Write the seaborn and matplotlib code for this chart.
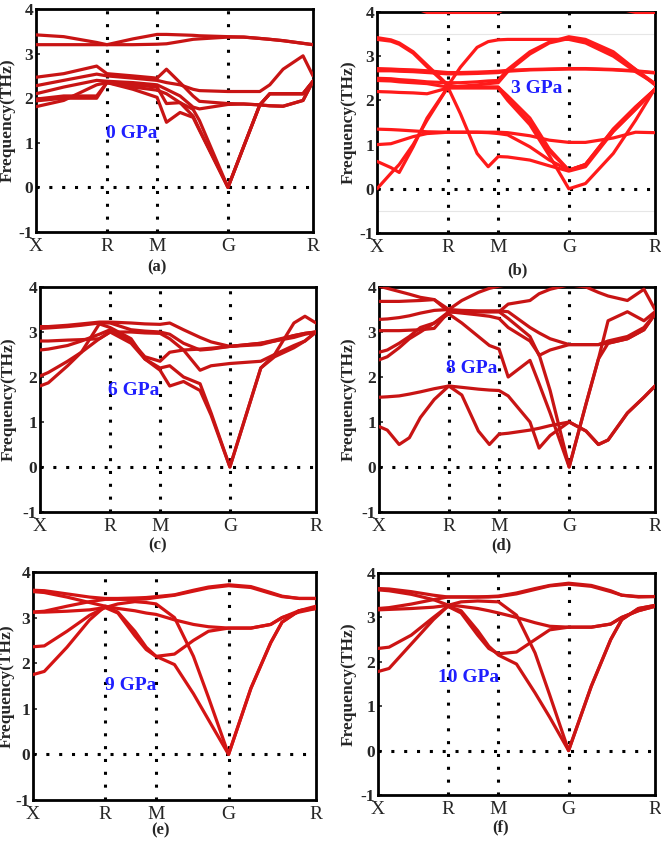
import numpy as np
import pandas as pd
import matplotlib
matplotlib.use("Agg")
import matplotlib.pyplot as plt
import seaborn as sns

sns.set_theme(style="white")
plt.rcParams["font.family"] = ["Liberation Serif", "DejaVu Serif"]

# ---------------- data ----------------
tick_labels = ["X", "R", "M", "G", "R"]

# (a) 0 GPa
a_ticks = [0.0, 0.256, 0.437, 0.693, 1.0]
a_grid = [0, 0.1, 0.219, 0.256, 0.35, 0.437, 0.471, 0.52, 0.567, 0.59, 0.693, 0.75, 0.808, 0.844, 0.892, 0.964, 1.0]
a_bands = [
    [3.42, 3.38, 3.25, 3.2, 3.33, 3.43, 3.43, 3.42, 3.41, 3.4, 3.38, 3.37, 3.34, 3.32, 3.29, 3.23, 3.2],
    [3.2, 3.2, 3.2, 3.2, 3.2, 3.21, 3.22, 3.27, 3.32, 3.33, 3.37, 3.37, 3.34, 3.32, 3.29, 3.23, 3.2],
    [2.47, 2.55, 2.72, 2.55, 2.5, 2.45, 2.65, 2.35, 2.05, 1.93, 1.88, 1.87, 1.85, 1.83, 1.82, 1.95, 2.38],
    [2.28, 2.4, 2.54, 2.5, 2.45, 2.4, 2.35, 2.3, 2.2, 2.17, 2.15, 2.15, 2.15, 2.3, 2.65, 2.95, 2.5],
    [2.1, 2.25, 2.4, 2.38, 2.35, 2.3, 2.2, 2.05, 1.8, 1.76, 1.86, 1.87, 1.85, 1.83, 1.82, 1.95, 2.38],
    [1.98, 2.05, 2.05, 2.35, 2.3, 2.25, 1.88, 1.9, 1.75, 1.5, 0.0, 0.92, 1.85, 2.1, 2.1, 2.1, 2.38],
    [1.94, 2.0, 2.0, 2.35, 2.25, 2.18, 2.1, 1.9, 1.6, 1.3, 0.0, 0.92, 1.85, 2.1, 2.1, 2.1, 2.38],
    [1.81, 1.95, 2.3, 2.35, 2.2, 2.02, 1.46, 1.68, 1.57, 1.28, 0.0, 0.92, 1.85, 2.1, 2.1, 2.1, 2.38],
]

# (b) 3 GPa
b_ticks = [0.0, 0.255, 0.436, 0.69, 1.0]
b_grid = [0, 0.05, 0.08, 0.13, 0.18, 0.255, 0.3, 0.36, 0.4, 0.436, 0.47, 0.55, 0.62, 0.69, 0.75, 0.85, 0.93, 1.0]
b_bands = [
    [4.1, 4.1, 4.1, 4.1, 3.99, 3.99, 3.99, 3.99, 3.99, 3.99, 4.1, 4.1, 4.1, 4.1, 4.1, 4.1, 3.99, 3.99],
    [3.42, 3.37, 3.3, 3.1, 2.8, 2.35, 2.3, 2.3, 2.3, 2.3, 2.1, 1.6, 0.9, 0.42, 0.55, 1.35, 1.85, 2.25],
    [3.38, 3.34, 3.27, 3.07, 2.76, 2.33, 2.75, 3.2, 3.33, 3.37, 3.38, 3.38, 3.38, 3.38, 3.3, 3.0, 2.65, 2.38],
    [2.5, 2.49, 2.47, 2.45, 2.42, 2.4, 2.4, 2.42, 2.44, 2.45, 2.7, 3.1, 3.32, 3.44, 3.38, 3.1, 2.7, 2.38],
    [2.45, 2.44, 2.42, 2.4, 2.38, 2.3, 2.32, 2.35, 2.38, 2.4, 2.65, 3.05, 3.3, 3.4, 3.35, 3.05, 2.7, 2.35],
    [2.72, 2.71, 2.7, 2.69, 2.67, 2.63, 2.63, 2.64, 2.65, 2.66, 2.68, 2.7, 2.71, 2.72, 2.72, 2.7, 2.67, 2.63],
    [2.67, 2.67, 2.66, 2.65, 2.63, 2.6, 2.6, 2.61, 2.62, 2.63, 2.66, 2.69, 2.7, 2.71, 2.71, 2.69, 2.66, 2.62],
    [2.2, 2.19, 2.18, 2.17, 2.15, 2.28, 2.28, 2.28, 2.28, 2.28, 2.0, 1.45, 0.75, 0.0, 0.12, 0.8, 1.55, 2.27],
    [1.35, 1.34, 1.33, 1.31, 1.29, 1.28, 1.28, 1.28, 1.28, 1.28, 1.27, 1.2, 1.1, 1.05, 1.05, 1.15, 1.28, 1.27],
    [1.0, 1.02, 1.08, 1.18, 1.25, 1.28, 1.28, 1.28, 1.27, 1.25, 1.22, 0.95, 0.65, 0.42, 0.55, 1.3, 1.8, 2.25],
    [0.0, 0.35, 0.55, 1.0, 1.55, 2.3, 1.7, 0.8, 0.5, 0.73, 0.72, 0.65, 0.52, 0.4, 0.5, 1.3, 1.8, 2.25],
    [0.62, 0.48, 0.37, 0.95, 1.6, 2.3, 2.3, 2.3, 2.3, 2.3, 2.05, 1.5, 0.85, 0.42, 0.55, 1.35, 1.85, 2.25],
]

# (c) 6 GPa
c_ticks = [0.0, 0.254, 0.435, 0.688, 1.0]
c_grid = [0, 0.03, 0.1, 0.15, 0.215, 0.254, 0.33, 0.38, 0.435, 0.47, 0.52, 0.58, 0.62, 0.688, 0.8, 0.85, 0.92, 0.96, 1.0]
c_bands = [
    [3.12, 3.12, 3.15, 3.18, 3.22, 3.22, 3.2, 3.18, 3.17, 3.2, 3.05, 2.88, 2.78, 2.68, 2.75, 2.8, 2.88, 2.95, 3.0],
    [3.08, 3.09, 3.12, 3.15, 3.2, 3.2, 3.05, 3.02, 3.0, 2.95, 2.75, 2.6, 2.62, 2.68, 2.72, 2.8, 2.92, 2.97, 3.0],
    [2.8, 2.8, 2.82, 2.83, 2.85, 3.0, 3.0, 2.98, 2.97, 2.85, 2.6, 2.15, 2.25, 2.3, 2.35, 2.5, 2.7, 2.8, 3.0],
    [2.6, 2.62, 2.7, 2.8, 2.95, 3.05, 2.8, 2.45, 2.35, 2.55, 2.6, 2.62, 2.64, 2.68, 2.75, 2.82, 2.92, 2.97, 3.0],
    [2.02, 2.1, 2.35, 2.55, 2.85, 3.0, 2.75, 2.4, 2.2, 2.25, 2.0, 1.85, 1.2, 0.0, 2.2, 2.5, 3.2, 3.35, 3.2],
    [1.8, 1.87, 2.25, 2.55, 3.18, 3.1, 2.85, 2.4, 2.15, 1.8, 1.9, 1.7, 1.15, 0.0, 2.2, 2.45, 2.65, 2.8, 3.0],
]

# (d) 8 GPa
d_ticks = [0.0, 0.253, 0.435, 0.689, 1.0]
d_grid = [0, 0.03, 0.073, 0.11, 0.15, 0.2, 0.253, 0.3, 0.36, 0.4, 0.435, 0.468, 0.547, 0.58, 0.62, 0.689, 0.75, 0.795, 0.83, 0.9, 0.96, 1.0]
d_bands = [
    [4.02, 3.97, 3.9, 3.84, 3.77, 3.72, 3.5, 3.7, 3.88, 3.97, 4.02, 4.05, 4.05, 4.05, 4.05, 4.05, 4.0, 3.88, 3.8, 3.7, 3.95, 3.5],
    [3.68, 3.68, 3.68, 3.69, 3.7, 3.72, 3.45, 3.45, 3.45, 3.45, 3.45, 3.62, 3.7, 3.85, 3.95, 4.05, 4.05, 4.05, 4.05, 4.05, 4.05, 4.05],
    [3.28, 3.29, 3.32, 3.36, 3.42, 3.48, 3.5, 3.48, 3.47, 3.47, 3.47, 3.45, 3.1, 2.98, 2.85, 2.72, 2.72, 2.72, 2.75, 2.85, 3.05, 3.4],
    [3.03, 3.03, 3.03, 3.04, 3.05, 3.08, 3.45, 3.42, 3.38, 3.35, 3.3, 3.1, 2.8, 2.5, 1.7, 0.0, 1.4, 2.4, 3.25, 3.45, 3.25, 3.45],
    [2.55, 2.6, 2.75, 2.9, 3.1, 3.2, 3.4, 3.2, 2.9, 2.7, 2.62, 2.0, 2.37, 1.85, 1.2, 0.0, 1.4, 2.4, 2.75, 2.85, 3.05, 3.4],
    [2.38, 2.45, 2.65, 2.85, 3.0, 3.2, 3.45, 3.45, 3.45, 3.45, 3.45, 3.3, 2.9, 2.48, 2.6, 2.72, 2.72, 2.72, 2.8, 2.9, 3.1, 3.4],
    [1.55, 1.56, 1.58, 1.62, 1.67, 1.74, 1.8, 1.77, 1.73, 1.71, 1.7, 1.58, 1.0, 0.42, 0.7, 1.0, 0.8, 0.5, 0.6, 1.2, 1.55, 1.8],
    [0.9, 0.82, 0.5, 0.65, 1.1, 1.5, 1.8, 1.6, 0.8, 0.5, 0.73, 0.75, 0.82, 0.86, 0.92, 1.0, 0.8, 0.5, 0.6, 1.2, 1.55, 1.8],
]

# (e) 9 GPa
e_ticks = [0.0, 0.255, 0.435, 0.691, 1.0]
e_grid = [0, 0.04, 0.12, 0.2, 0.255, 0.3, 0.36, 0.4, 0.435, 0.5, 0.567, 0.62, 0.691, 0.77, 0.84, 0.88, 0.94, 1.0]
e_bands = [
    [3.6, 3.59, 3.52, 3.45, 3.42, 3.42, 3.43, 3.44, 3.46, 3.5, 3.6, 3.67, 3.72, 3.68, 3.55, 3.47, 3.42, 3.42],
    [3.57, 3.55, 3.45, 3.33, 3.25, 3.2, 3.15, 3.1, 3.07, 2.95, 2.85, 2.8, 2.77, 2.77, 2.85, 3.0, 3.12, 3.2],
    [3.12, 3.14, 3.25, 3.35, 3.4, 3.4, 3.4, 3.41, 3.44, 3.49, 3.58, 3.65, 3.7, 3.66, 3.53, 3.46, 3.42, 3.42],
    [3.12, 3.12, 3.14, 3.17, 3.22, 3.3, 3.35, 3.33, 3.3, 3.0, 2.15, 1.25, 0.0, 1.45, 2.45, 2.9, 3.15, 3.25],
    [2.36, 2.38, 2.7, 3.05, 3.22, 3.1, 2.6, 2.3, 2.15, 2.2, 2.5, 2.7, 2.77, 2.77, 2.85, 3.0, 3.15, 3.2],
    [1.75, 1.82, 2.35, 2.95, 3.25, 3.12, 2.7, 2.35, 2.15, 1.97, 1.33, 0.76, 0.0, 1.45, 2.45, 2.9, 3.15, 3.22],
]

# (f) 10 GPa
f_ticks = [0.0, 0.252, 0.435, 0.688, 1.0]
f_grid = [0, 0.04, 0.12, 0.2, 0.252, 0.3, 0.36, 0.4, 0.435, 0.5, 0.567, 0.62, 0.688, 0.77, 0.84, 0.88, 0.94, 1.0]
f_bands = [
    [3.65, 3.64, 3.58, 3.5, 3.46, 3.46, 3.46, 3.47, 3.48, 3.55, 3.65, 3.72, 3.77, 3.72, 3.6, 3.5, 3.47, 3.47],
    [3.62, 3.6, 3.52, 3.4, 3.28, 3.25, 3.2, 3.15, 3.1, 3.0, 2.88, 2.8, 2.78, 2.78, 2.85, 3.0, 3.15, 3.25],
    [3.2, 3.22, 3.3, 3.4, 3.46, 3.46, 3.46, 3.46, 3.47, 3.53, 3.63, 3.71, 3.75, 3.7, 3.58, 3.5, 3.46, 3.47],
    [3.17, 3.18, 3.2, 3.23, 3.27, 3.35, 3.37, 3.36, 3.35, 3.05, 2.2, 1.25, 0.0, 1.45, 2.5, 2.95, 3.2, 3.27],
    [2.3, 2.33, 2.6, 3.0, 3.25, 3.1, 2.6, 2.3, 2.18, 2.22, 2.5, 2.72, 2.78, 2.78, 2.85, 3.0, 3.15, 3.25],
    [1.78, 1.85, 2.4, 2.95, 3.25, 3.15, 2.7, 2.35, 2.15, 1.95, 1.3, 0.75, 0.0, 1.45, 2.5, 2.95, 3.2, 3.27],
]

pressures = ["0 GPa", "3 GPa", "6 GPa", "8 GPa", "9 GPa", "10 GPa"]
panel_labels = ["(a)", "(b)", "(c)", "(d)", "(e)", "(f)"]

# ---------------- layout / style ----------------
W, H = 661, 841
# axes boxes in pixels: left, top, right, bottom
boxes = [(36, 9, 313, 232), (377, 12, 655, 233),
         (40, 287, 316, 512), (379, 287, 655, 512),
         (33, 572, 316, 800), (378, 573, 655, 795)]
ylabel_x = [16, 357, 17, 357, 15, 357]   # right edge of the rotated label, px
label_pos = [(157, 267), (517, 270), (158, 545), (501, 545), (161, 830), (501, 827)]
press_pos = [(0.345, 1.2), (0.575, 2.27), (0.338, 1.69), (0.335, 2.19), (0.344, 1.51), (0.327, 1.65)]
colors = ["#c81414", "#ff1a1a", "#c81414", "#c81414", "#d41414", "#cc1414"]

panels = [(a_grid, a_bands, a_ticks), (b_grid, b_bands, b_ticks), (c_grid, c_bands, c_ticks),
          (d_grid, d_bands, d_ticks), (e_grid, e_bands, e_ticks), (f_grid, f_bands, f_ticks)]

fig = plt.figure(figsize=(W / 100, H / 100), dpi=100)
fig.patch.set_facecolor("white")

for i, (grid, bands, ticks) in enumerate(panels):
    l, t, r, b = boxes[i]
    ax = fig.add_axes([l / W, 1 - b / H, (r - l) / W, (b - t) / H])
    ax.set_facecolor("white")
    rows = []
    for k, band in enumerate(bands):
        for x, y in zip(grid, band):
            rows.append({"x": x, "y": y, "band": k})
    df = pd.DataFrame(rows)
    if i == 1:
        for yy in (3.5, -0.5):
            ax.axhline(yy, color="#e6e6e6", lw=0.8, zorder=0)
    sns.lineplot(data=df, x="x", y="y", units="band", estimator=None, sort=False,
                 color=colors[i], linewidth=2.3, ax=ax, legend=False, zorder=3)
    for xv in ticks[1:4]:
        ax.axvline(xv, color="black", lw=2.2, ls=(0, (1, 3.2)), zorder=2)
    ax.axhline(0, color="black", lw=2.2, ls=(0, (1, 3.2)), zorder=2)
    ax.set_xlim(0, 1)
    ax.set_ylim(-1, 4)
    ax.set_xticks(ticks)
    ax.set_xticklabels(tick_labels, fontsize=14)
    ax.set_yticks([-1, 0, 1, 2, 3, 4])
    ax.set_yticklabels(["-1", "0", "1", "2", "3", "4"], fontsize=12.5, fontweight="bold")
    ax.tick_params(axis="x", length=0, pad=4)
    ax.tick_params(axis="y", direction="in", length=3, width=1.2, pad=2, left=True)
    ax.set_xlabel("")
    ax.set_ylabel("Frequency(THz)", fontsize=12.5, fontweight="bold")
    ax.yaxis.set_label_coords((ylabel_x[i] - l) / (r - l), 0.5)
    for s in ax.spines.values():
        s.set_color("black")
        s.set_linewidth(2.0)
        s.set_visible(True)
    ax.text(press_pos[i][0], press_pos[i][1], pressures[i], color="#1f1fff",
            fontsize=14, fontweight="bold", ha="center", va="center", zorder=5)
    fig.text(label_pos[i][0] / W, 1 - label_pos[i][1] / H, panel_labels[i],
             fontsize=12, fontweight="bold", ha="center", va="center")

fig.savefig("out.png", dpi=100, facecolor="white")
